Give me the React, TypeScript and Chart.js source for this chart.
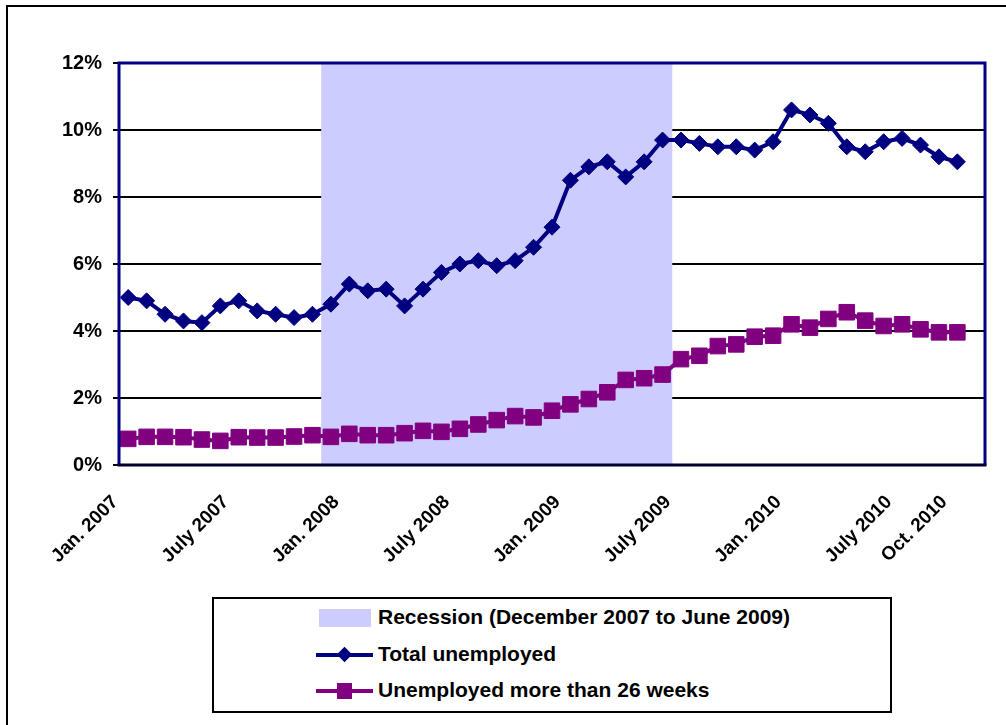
import React, { useEffect, useRef } from "react";
import { Chart, registerables } from "chart.js";

Chart.register(...registerables);

const categories = [
  "Jan. 2007", "Feb. 2007", "Mar. 2007", "Apr. 2007", "May 2007", "June 2007",
  "July 2007", "Aug. 2007", "Sept. 2007", "Oct. 2007", "Nov. 2007", "Dec. 2007",
  "Jan. 2008", "Feb. 2008", "Mar. 2008", "Apr. 2008", "May 2008", "June 2008",
  "July 2008", "Aug. 2008", "Sept. 2008", "Oct. 2008", "Nov. 2008", "Dec. 2008",
  "Jan. 2009", "Feb. 2009", "Mar. 2009", "Apr. 2009", "May 2009", "June 2009",
  "July 2009", "Aug. 2009", "Sept. 2009", "Oct. 2009", "Nov. 2009", "Dec. 2009",
  "Jan. 2010", "Feb. 2010", "Mar. 2010", "Apr. 2010", "May 2010", "June 2010",
  "July 2010", "Aug. 2010", "Sept. 2010", "Oct. 2010", "",
];

const shownTicks = [
  "Jan. 2007", "July 2007", "Jan. 2008", "July 2008", "Jan. 2009",
  "July 2009", "Jan. 2010", "July 2010", "Oct. 2010",
];

const totalUnemployed = [
  5.0, 4.9, 4.5, 4.3, 4.25, 4.75, 4.9, 4.6, 4.5, 4.4, 4.5, 4.8,
  5.4, 5.2, 5.25, 4.75, 5.25, 5.75, 6.0, 6.1, 5.95, 6.1, 6.5, 7.1,
  8.5, 8.9, 9.05, 8.6, 9.05, 9.7, 9.7, 9.6, 9.5, 9.5, 9.4, 9.65,
  10.6, 10.45, 10.2, 9.5, 9.35, 9.65, 9.75, 9.55, 9.2, 9.05,
];

const longTerm = [
  0.78, 0.84, 0.84, 0.83, 0.76, 0.72, 0.83, 0.82, 0.82, 0.85, 0.89, 0.84,
  0.93, 0.89, 0.89, 0.95, 1.02, 0.99, 1.08, 1.21, 1.34, 1.46, 1.42, 1.62,
  1.81, 1.97, 2.17, 2.54, 2.59, 2.70, 3.16, 3.26, 3.55, 3.60, 3.83, 3.86,
  4.20, 4.10, 4.36, 4.56, 4.31, 4.15, 4.20, 4.05, 3.96, 3.96,
];

// Recession shading (December 2007 to June 2009), full height of the axis
const recession = [
  null, null, null, null, null, null, null, null, null, null, null, 12,
  12, 12, 12, 12, 12, 12, 12, 12, 12, 12, 12, 12,
  12, 12, 12, 12, 12, 12, null, null, null, null, null, null,
  null, null, null, null, null, null, null, null, null, null, null,
];

const yMin = 0;
const yMax = 12;
const yStep = 2;

const legendLabels = [
  "Recession (December 2007 to June 2009)",
  "Total unemployed",
  "Unemployed more than 26 weeks",
];

const FONT = "'Liberation Sans', Arial, Helvetica, sans-serif";
const NAVY = "#000080";
const PURPLE = "#800080";
const SHADE = "#CCCCFF";

export default function App() {
  const ref = useRef<HTMLCanvasElement>(null);

  useEffect(() => {
    const canvas = ref.current;
    if (!canvas) return;

    const borderPlugin = {
      id: "plotBorder",
      afterDatasetsDraw(chart: any) {
        const { ctx, chartArea: a } = chart;
        ctx.save();
        ctx.lineWidth = 3;
        ctx.strokeStyle = NAVY;
        ctx.beginPath();
        ctx.moveTo(a.left, a.bottom);
        ctx.lineTo(a.left, a.top);
        ctx.lineTo(a.right, a.top);
        ctx.lineTo(a.right, a.bottom);
        ctx.stroke();
        ctx.strokeStyle = "#000033";
        ctx.beginPath();
        ctx.moveTo(a.left - 1.5, a.bottom);
        ctx.lineTo(a.right + 1.5, a.bottom);
        ctx.stroke();
        ctx.restore();
      },
    };

    const chart = new Chart(canvas, {
      type: "line",
      data: {
        labels: categories,
        datasets: [
          {
            type: "bar",
            label: legendLabels[0],
            data: recession as any,
            backgroundColor: SHADE,
            borderWidth: 0,
            barPercentage: 1,
            categoryPercentage: 1,
            inflateAmount: 0.5,
            order: 3,
          } as any,
          {
            label: legendLabels[1],
            data: totalUnemployed,
            borderColor: NAVY,
            backgroundColor: NAVY,
            borderWidth: 4,
            pointStyle: "rectRot",
            pointRadius: 8,
            pointBorderWidth: 1,
            tension: 0,
            order: 1,
          },
          {
            label: legendLabels[2],
            data: longTerm,
            borderColor: PURPLE,
            backgroundColor: PURPLE,
            borderWidth: 4,
            pointStyle: "rect",
            pointRadius: 11,
            pointBorderWidth: 1,
            tension: 0,
            order: 2,
          },
        ],
      },
      options: {
        responsive: false,
        animation: false,
        devicePixelRatio: 1,
        layout: { padding: { top: 63, right: 21, left: 0, bottom: 0 } },
        plugins: {
          legend: { display: false },
          tooltip: { enabled: false },
        },
        scales: {
          x: {
            type: "category",
            offset: true,
            grid: { display: false },
            border: { display: false },
            ticks: {
              autoSkip: false,
              minRotation: 45,
              maxRotation: 45,
              color: "#000",
              padding: 18,
              labelOffset: -13,
              font: { family: FONT, size: 19, weight: "bold" },
              callback: (_v: any, i: number) =>
                shownTicks.includes(categories[i]) ? categories[i] : "",
            },
            afterFit: (s: any) => {
              s.height = 260;
              s.paddingLeft = 0;
              s.paddingRight = 0;
            },
          },
          y: {
            min: yMin,
            max: yMax,
            border: { display: false },
            grid: {
              color: "#000",
              lineWidth: 2,
              drawTicks: true,
              tickLength: 6,
              tickColor: "#000",
            },
            ticks: {
              stepSize: yStep,
              color: "#000",
              padding: 11,
              font: { family: FONT, size: 20, weight: "bold" },
              callback: (v: any) => `${v}%`,
            },
            afterFit: (s: any) => {
              s.width = 119;
              s.paddingTop = 0;
              s.paddingBottom = 0;
            },
          },
        },
      },
      plugins: [borderPlugin],
    });

    return () => chart.destroy();
  }, []);

  const textStyle: React.CSSProperties = {
    position: "absolute",
    left: 164,
    fontFamily: FONT,
    fontWeight: "bold",
    fontSize: 21,
    lineHeight: "24px",
    color: "#000",
    whiteSpace: "nowrap",
  };

  return (
    <div
      style={{
        position: "fixed",
        left: 0,
        top: 0,
        width: 1006,
        height: 725,
        overflow: "hidden",
        background: "#fff",
      }}
    >
      <div
        style={{
          position: "absolute",
          left: 6,
          top: 5,
          width: 1100,
          height: 800,
          borderLeft: "2px solid #000",
          borderTop: "2px solid #000",
        }}
      />
      <canvas
        ref={ref}
        width={1006}
        height={725}
        style={{ position: "absolute", left: 0, top: 0, width: 1006, height: 725 }}
      />
      <div
        style={{
          position: "absolute",
          left: 212,
          top: 597,
          width: 680,
          height: 116,
          boxSizing: "border-box",
          border: "2px solid #000",
          background: "#fff",
        }}
      >
        {/* Recession swatch */}
        <div
          style={{
            position: "absolute",
            left: 105,
            top: 10,
            width: 52,
            height: 18,
            background: SHADE,
          }}
        />
        <div style={{ ...textStyle, top: 6 }}>{legendLabels[0]}</div>

        {/* Total unemployed sample */}
        <div
          style={{
            position: "absolute",
            left: 102,
            top: 54,
            width: 57,
            height: 4,
            background: NAVY,
          }}
        />
        <div
          style={{
            position: "absolute",
            left: 125,
            top: 50,
            width: 11,
            height: 11,
            background: NAVY,
            transform: "rotate(45deg)",
          }}
        />
        <div style={{ ...textStyle, top: 43 }}>{legendLabels[1]}</div>

        {/* Long-term sample */}
        <div
          style={{
            position: "absolute",
            left: 102,
            top: 90,
            width: 57,
            height: 4,
            background: PURPLE,
          }}
        />
        <div
          style={{
            position: "absolute",
            left: 123,
            top: 84,
            width: 15,
            height: 16,
            background: PURPLE,
          }}
        />
        <div style={{ ...textStyle, top: 79 }}>{legendLabels[2]}</div>
      </div>
    </div>
  );
}
